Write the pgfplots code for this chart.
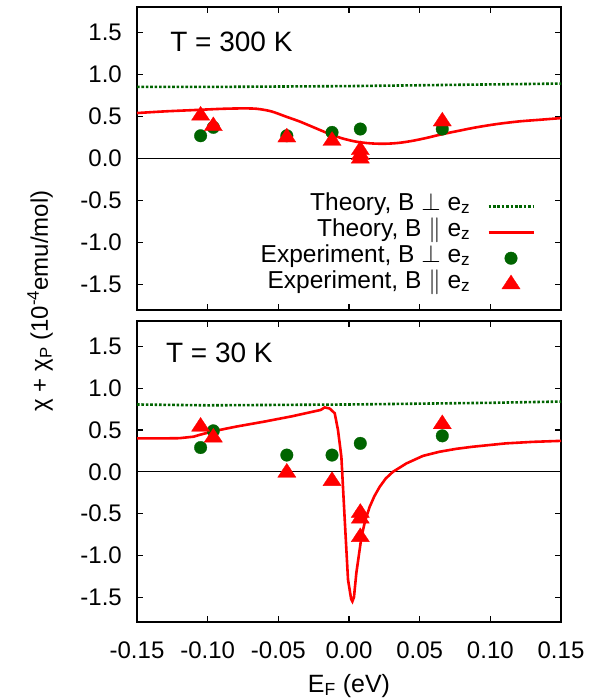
\documentclass[border=0pt]{standalone}
\usepackage{fontspec}
\setmainfont{Liberation Sans}
\usepackage{pgfplots}
\pgfplotsset{compat=1.18}
\definecolor{dgreen}{RGB}{0,100,0}
\definecolor{pred}{RGB}{255,0,0}

\pgfplotsset{
  panel/.style={
    scale only axis, width=424pt, height=302pt,
    xmin=-0.15, xmax=0.15, ymin=-1.8, ymax=1.8,
    xtick={-0.15,-0.1,-0.05,0,0.05,0.1,0.15},
    ytick={-1.5,-1,-0.5,0,0.5,1,1.5},
    yticklabels={-1.5,-1.0,-0.5,0.0,0.5,1.0,1.5},
    tick align=inside, major tick length=6pt,
    every tick/.append style={black, line width=1.1pt},
    axis line style={line width=1.8pt},
    tick label style={font=\fontsize{24}{28}\selectfont},
    yticklabel style={anchor=east, inner sep=0pt, xshift=-15pt},
    xticklabel style={anchor=base, inner sep=0pt, yshift=-36pt},
    clip=false,
  },
  circ/.style={only marks, mark=*, mark size=6.3pt, color=dgreen, mark options={line width=0.3pt},
    legend image code/.code={\draw[mark repeat=2,mark phase=2,##1] plot coordinates {(0pt,0pt) (22.5pt,0pt) (45pt,0pt)};}},
  tri/.style={only marks, mark=triangle*, mark size=10.5pt, color=pred, mark options={line width=0.3pt, yscale=0.88},
    legend image code/.code={\draw[mark repeat=2,mark phase=2,##1] plot coordinates {(0pt,0pt) (22.5pt,0pt) (45pt,0pt)};}},
  thperp/.style={dgreen, line width=2.6pt, dash pattern=on 2.6pt off 1.8pt,
    legend image code/.code={\draw[##1] (0pt,0pt) -- (45pt,0pt);}},
  thpar/.style={pred, line width=2.6pt,
    legend image code/.code={\draw[##1] (0pt,0pt) -- (45pt,0pt);}},
}

\begin{document}
\begin{tikzpicture}
\path[use as bounding box] (0pt,0pt) rectangle (600pt,700pt);

% ---------- top panel: T = 300 K ----------
\begin{axis}[panel, at={(137pt,390pt)}, anchor=south west, height=303pt,
  xticklabels={},
  legend plot pos=right, legend cell align=right,
  legend style={draw=none, fill=none, inner sep=0pt,
    at={(axis description cs:0.9387,0.386)}, anchor=north east,
    font=\fontsize{24.5}{27}\selectfont, column sep=17pt,
    nodes={inner sep=0pt, text height=17pt, text depth=9pt}},
]
\addplot[black, line width=1.1pt, forget plot] coordinates {(-0.15,0) (0.15,0)};
\addplot[thperp] coordinates {
(-0.15,0.850) (-0.10,0.850) (-0.05,0.855) (0.00,0.860) (0.05,0.870) (0.10,0.880) (0.15,0.890)};
\addlegendentry{Theory, B $\perp$ e\textsubscript{z}}
\addplot[thpar, smooth] coordinates {
(-0.150,0.540) (-0.130,0.560) (-0.110,0.575) (-0.090,0.590) (-0.075,0.595)
(-0.065,0.590) (-0.055,0.560) (-0.045,0.500) (-0.035,0.440) (-0.025,0.370)
(-0.015,0.300) (-0.005,0.240) (0.005,0.200) (0.015,0.180) (0.025,0.175)
(0.035,0.185) (0.045,0.210) (0.055,0.245) (0.065,0.285) (0.075,0.320)
(0.090,0.370) (0.105,0.410) (0.120,0.440) (0.135,0.460) (0.150,0.480)};
\addlegendentry{Theory, B $\parallel$ e\textsubscript{z}}
\addplot[circ] coordinates {
(-0.105,0.27) (-0.096,0.37) (-0.044,0.27) (-0.012,0.31) (0.008,0.35) (0.066,0.35)};
\addlegendentry{Experiment, B $\perp$ e\textsubscript{z}}
\addplot[tri] coordinates {
(-0.105,0.51) (-0.096,0.385) (-0.044,0.25) (-0.012,0.21) (0.008,0.10) (0.008,0.04) (0.008,0.00) (0.066,0.44)};
\addlegendentry{Experiment, B $\parallel$ e\textsubscript{z}}
\node[anchor=west, inner sep=0pt, font=\fontsize{28}{32}\selectfont] at (axis description cs:0.078,0.885) {T = 300 K};
\end{axis}

% ---------- bottom panel: T = 30 K ----------
\begin{axis}[panel, at={(137pt,77.7pt)}, anchor=south west, height=301pt,
  xticklabels={-0.15,-0.10,-0.05,0.00,0.05,0.10,0.15},
]
\addplot[black, line width=1.1pt, forget plot] coordinates {(-0.15,0) (0.15,0)};
\addplot[thperp] coordinates {
(-0.15,0.805) (-0.10,0.795) (-0.05,0.800) (0.00,0.805) (0.05,0.815) (0.10,0.825) (0.15,0.840)};
\addplot[thpar] coordinates {
(-0.150,0.400) (-0.130,0.400) (-0.120,0.402) (-0.110,0.420) (-0.105,0.445)
(-0.096,0.485) (-0.080,0.540) (-0.060,0.600) (-0.040,0.665) (-0.020,0.740)
(-0.0172,0.770) (-0.0137,0.757) (-0.0101,0.700) (-0.0078,0.500) (-0.0054,0.180)
(-0.0030,-0.580) (-0.0007,-1.290) (0.0015,-1.520) (0.0024,-1.550) (0.0035,-1.500)
(0.0052,-1.210) (0.0088,-0.780) (0.0115,-0.580) (0.0146,-0.420) (0.0180,-0.290)
(0.0217,-0.180) (0.0260,-0.080) (0.0311,0.000) (0.0406,0.100) (0.0523,0.190)
(0.0641,0.240) (0.0760,0.275) (0.0877,0.300) (0.1110,0.340) (0.1300,0.358) (0.150,0.370)};
\addplot[circ] coordinates {
(-0.105,0.29) (-0.096,0.49) (-0.044,0.20) (-0.012,0.20) (0.008,0.34) (0.066,0.43)};
\addplot[tri] coordinates {
(-0.105,0.54) (-0.096,0.41) (-0.044,-0.01) (-0.012,-0.11) (0.008,-0.49) (0.008,-0.56) (0.008,-0.78) (0.066,0.57)};
\node[anchor=west, inner sep=0pt, font=\fontsize{28}{32}\selectfont] at (axis description cs:0.068,0.894) {T = 30 K};
\end{axis}

% axis titles
\node[anchor=base, inner sep=0pt, font=\fontsize{25}{30}\selectfont] at (349pt,8pt) {E\textsubscript{F} (eV)};
\node[rotate=90, inner sep=0pt, font=\fontsize{24}{28}\selectfont] at (40pt,399pt) {χ + χ\textsubscript{P} (10\textsuperscript{-4}emu/mol)};
\end{tikzpicture}
\end{document}
